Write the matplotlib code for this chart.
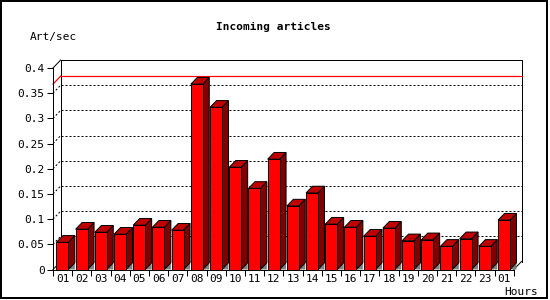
import matplotlib
matplotlib.use("Agg")
import matplotlib.pyplot as plt
from matplotlib.patches import Polygon, Rectangle

# hourly rates
hours = ["01", "02", "03", "04", "05", "06", "07", "08", "09", "10", "11", "12",
         "13", "14", "15", "16", "17", "18", "19", "20", "21", "22", "23", "01"]
rates = [0.054, 0.080, 0.074, 0.070, 0.088, 0.084, 0.078, 0.368, 0.322, 0.203,
         0.161, 0.219, 0.126, 0.152, 0.090, 0.084, 0.066, 0.082, 0.057, 0.059,
         0.046, 0.061, 0.046, 0.098]
yticks = [0, 0.05, 0.1, 0.15, 0.2, 0.25, 0.3, 0.35, 0.4]
ylabels = ["0", "0.05", "0.1", "0.15", "0.2", "0.25", "0.3", "0.35", "0.4"]

W, H = 550, 300
fig = plt.figure(figsize=(W / 100, H / 100), dpi=100)
fig.patch.set_facecolor("white")

# front plane of the plot, in pixels
x0, x1, y0, y1 = 53, 513.8, 269.5, 68
ax = fig.add_axes([x0 / W, (H - y0) / H, (x1 - x0) / W, (y0 - y1) / H])
n = len(rates)
ymax = 0.4
ax.set_xlim(0, n)
ax.set_ylim(0, ymax)

px_x = n / (x1 - x0)      # data units per pixel
px_y = ymax / (y0 - y1)
fdx, fdy = 7.7 * px_x, 8.0 * px_y   # frame depth
bdx, bdy = 6.5 * px_x, 6.7 * px_y   # bar depth

lw = 0.72
kw = dict(color="black", lw=lw, clip_on=False)

# back wall and frame
ax.plot([fdx, fdx, n + fdx, n + fdx], [fdy, ymax + fdy, ymax + fdy, fdy], **kw)
ax.plot([0, fdx], [ymax, ymax + fdy], **kw)
ax.plot([0, fdx], [0, fdy], **kw)
ax.plot([n, n + fdx], [0, fdy], **kw)

# dotted grid on the back wall
for v in yticks[1:-1]:
    ax.plot([fdx, n + fdx], [v + fdy, v + fdy], color="black", lw=lw,
            ls=(0, (2, 2)), clip_on=False)
    ax.plot([0, fdx], [v, v + fdy], color="black", lw=lw,
            ls=(0, (2, 2)), clip_on=False)

# max line
top = max(rates)
ax.plot([fdx, n + fdx], [top + fdy, top + fdy], color="red", lw=lw * 1.2, clip_on=False)
ax.plot([0, fdx], [top, top + fdy], color="red", lw=lw * 1.2, clip_on=False)

# bars
off, bw = 0.18, 0.62
for i, v in enumerate(rates):
    a = i + off
    b = a + bw
    ax.add_patch(Polygon([(b, 0), (b + bdx, bdy), (b + bdx, 0)], closed=True,
                         facecolor="#808080", edgecolor="none", clip_on=False, zorder=2))
    ax.add_patch(Polygon([(b, 0), (b + bdx, bdy), (b + bdx, v + bdy), (b, v)], closed=True,
                         facecolor="#800000", edgecolor="black", lw=lw, clip_on=False, zorder=3))
    ax.add_patch(Polygon([(a, v), (b, v), (b + bdx, v + bdy), (a + bdx, v + bdy)], closed=True,
                         facecolor="#c00000", edgecolor="black", lw=lw, clip_on=False, zorder=3))
ax.bar([i + off for i in range(n)], rates, width=bw, align="edge",
       color="#ff0000", edgecolor="black", linewidth=lw, zorder=4, clip_on=False)

# axes
for s in ["top", "right"]:
    ax.spines[s].set_visible(False)
for s in ["left", "bottom"]:
    ax.spines[s].set_linewidth(lw)
    ax.spines[s].set_zorder(5)
ax.set_facecolor("none")

mono = "DejaVu Sans Mono"
ax.set_yticks(yticks)
ax.set_yticklabels(ylabels, fontsize=8, family=mono)
ax.set_xticks(range(n + 1))
ax.set_xticklabels([])
ax.set_xticks([i + 0.5 for i in range(n)], minor=True)
ax.set_xticklabels(hours, minor=True, fontsize=8, family=mono)
ax.tick_params(axis="y", length=4, width=lw, pad=2)
ax.tick_params(axis="x", which="major", length=4, width=lw)
ax.tick_params(axis="x", which="minor", length=0, pad=3)

fig.text(273 / W, 1 - 27 / H, "Incoming articles", ha="center", va="center",
         fontsize=8, family=mono, weight="bold")
fig.text(30 / W, 1 - 37 / H, "Art/sec", ha="left", va="center", fontsize=8, family=mono)
fig.text(504 / W, 1 - 292 / H, "Hours", ha="left", va="center", fontsize=8, family=mono)

# outer frame
fig.patches.append(Rectangle((1 / W, 2 / H), 546 / W, 297 / H, transform=fig.transFigure,
                             fill=False, edgecolor="black", lw=1.44))

fig.savefig("out.png", dpi=100)
